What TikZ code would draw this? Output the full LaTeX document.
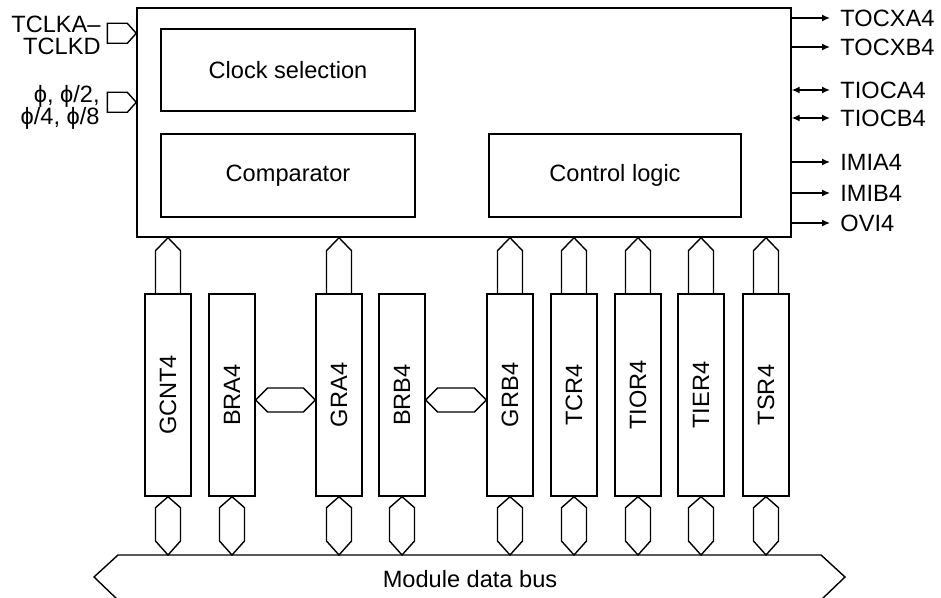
\documentclass[tikz,border=0pt]{standalone}
\usepackage{fontspec}
\setmainfont{Liberation Sans}
\usetikzlibrary{arrows.meta,calc}
\begin{document}
\begin{tikzpicture}[x=0.5pt,y=-0.5pt,
  every node/.style={font=\fontsize{11.8}{11}\selectfont},
  box/.style={draw,line width=0.7pt,inner sep=0pt},
  reg/.style={box,minimum width=23pt,minimum height=101pt},
  conn/.style={draw,line width=0.7pt,line join=miter},
  lbl/.style={inner sep=0pt},
  arr/.style={line width=0.7pt,-{Latex[length=4pt,width=3.5pt]}},
  barr/.style={line width=0.7pt,{Latex[length=4pt,width=3.5pt]}-{Latex[length=4pt,width=3.5pt]}}]
\useasboundingbox (0,0) rectangle (941,598);

% main block
\node[box,minimum width=327pt,minimum height=114.5pt] (main) at (464,122.5) {};
\node[box,minimum width=127pt,minimum height=41pt] (clk) at (288,70) {Clock selection};
\node[box,minimum width=127pt,minimum height=41.5pt] (cmp) at (288,175.5) {Comparator};
\node[box,minimum width=126pt,minimum height=41.5pt] (ctl) at (615,175.5) {Control logic};

% registers
\foreach \n/\x/\t in {gcnt/168/GCNT4, bra/232/BRA4, gra/339/GRA4, brb/402/BRB4, grb/510/GRB4, tcr/574/TCR4, tior/638/TIOR4, tier/701/TIER4, tsr/766/TSR4}
  \node[reg] (\n) at (\x,395) {\rotatebox{90}{\t}};

% bus
\coordinate (bustop) at (470,555);
\draw[conn] (118,555) -- (821,555) -- (845,577) -- (821,600) -- (118,600) -- (94,577) -- cycle;
\node (bus) at (470,579) {Module data bus};

% register to bus connectors
\foreach \n in {gcnt,bra,gra,brb,grb,tcr,tior,tier,tsr} {
  \path (\n.south |- bustop) coordinate (b);
  \draw[conn] (\n.south) -- ([xshift=-6.25pt,yshift=-5.5pt]\n.south) -- ([xshift=-6.25pt,yshift=7pt]b) -- (b) -- ([xshift=6.25pt,yshift=7pt]b) -- ([xshift=6.25pt,yshift=-5.5pt]\n.south) -- cycle;
}

% register to main block connectors
\foreach \n in {gcnt,gra,grb,tcr,tior,tier,tsr} {
  \path (\n.north |- main.south) coordinate (t);
  \draw[conn] ([xshift=-6.25pt]\n.north) -- ([xshift=-6.25pt,yshift=-6.5pt]t) -- (t) -- ([xshift=6.25pt,yshift=-6.5pt]t) -- ([xshift=6.25pt]\n.north);
}

% buffer to general register connectors
\foreach \a/\b in {bra/gra, brb/grb} {
  \path ([yshift=-2.5pt]\a.east) coordinate (ha) ([yshift=-2.5pt]\b.west) coordinate (hb);
  \draw[conn] (ha) -- ([xshift=6pt,yshift=6pt]ha) -- ([xshift=-6pt,yshift=6pt]hb) -- (hb) -- ([xshift=-6pt,yshift=-6pt]hb) -- ([xshift=6pt,yshift=-6pt]ha) -- cycle;
}

% inputs
\coordinate (in1) at ([yshift=-13pt]main.north west);
\coordinate (in2) at ([yshift=-47.5pt]main.north west);
\foreach \c in {in1,in2}
  \draw[conn] (\c) -- ++(-9,-10) -- ++(-20,0) -- ++(0,20) -- ++(20,0) -- cycle;
\node[lbl,align=right,anchor=east] (tclk) at (101,35) {TCLKA–\\TCLKD};
\node[lbl,align=right,anchor=east] (phi) at (100,107) {ϕ, ϕ/2,\\ϕ/4, ϕ/8};

% outputs
\foreach \n/\y/\t in {ocA/18/TOCXA4, ocB/47/TOCXB4, ioA/90/TIOCA4, ioB/118/TIOCB4, ima/162/IMIA4, imb/193/IMIB4, ovi/223/OVI4}
  \node[lbl,anchor=west] (\n) at (840,\y) {\t};
\foreach \n in {ocA,ocB,ima,imb,ovi}
  \draw[arr] (main.east |- \n.west) -- ([xshift=-5pt]\n.west);
\foreach \n in {ioA,ioB}
  \draw[barr] (main.east |- \n.west) -- ([xshift=-5pt]\n.west);
\end{tikzpicture}
\end{document}
